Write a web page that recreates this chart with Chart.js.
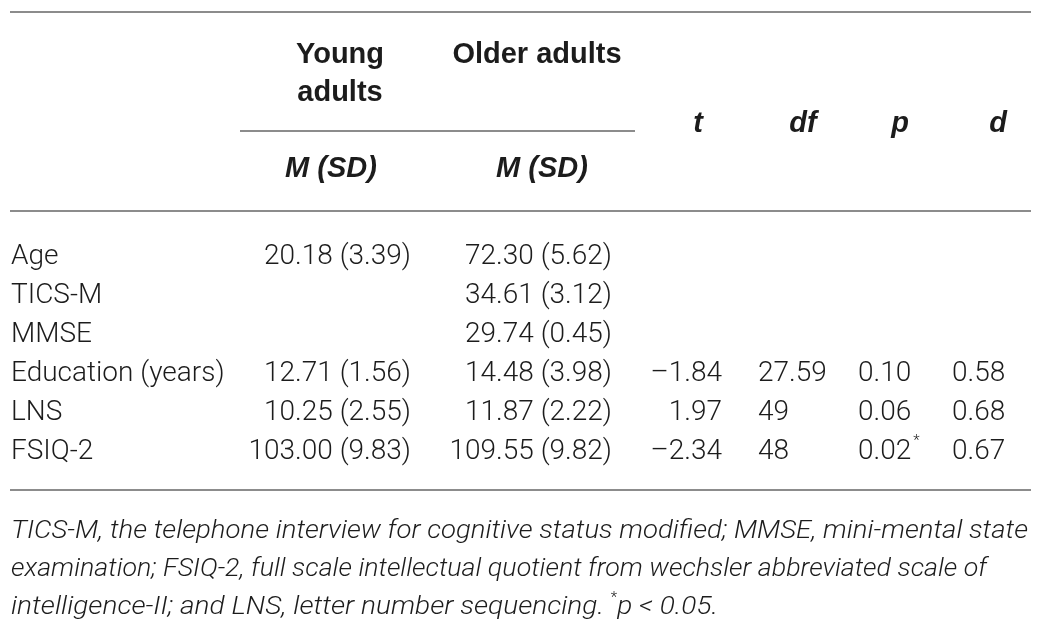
<!DOCTYPE html>
<html>
<head>
<meta charset="utf-8">
<script src="https://cdn.jsdelivr.net/npm/chart.js@4.4.1/dist/chart.umd.min.js"></script>
<style>
  html, body { margin: 0; padding: 0; background: #fff; }
  #wrap { width: 1043px; height: 621px; }
</style>
</head>
<body>
<div id="wrap"><canvas id="table" width="1043" height="621"></canvas></div>
<script>
// Table rows
const rowLabels = ["Age", "TICS-M", "MMSE", "Education (years)", "LNS", "FSIQ-2"];

// Young adults M (SD)
const youngMean = [20.18, null, null, 12.71, 10.25, 103.00];
const youngSD = [3.39, null, null, 1.56, 2.55, 9.83];

// Older adults M (SD)
const olderMean = [72.30, 34.61, 29.74, 14.48, 11.87, 109.55];
const olderSD = [5.62, 3.12, 0.45, 3.98, 2.22, 9.82];

// Test statistics
const tValues = [null, null, null, -1.84, 1.97, -2.34];
const dfValues = [null, null, null, 27.59, 49, 48];
const pValues = [null, null, null, 0.10, 0.06, 0.02];
const dValues = [null, null, null, 0.58, 0.68, 0.67];
const alphaLevel = 0.05;

const footnoteLines = [
  "TICS-M, the telephone interview for cognitive status modified; MMSE, mini-mental state",
  "examination; FSIQ-2, full scale intellectual quotient from wechsler abbreviated scale of",
  "intelligence-II; and LNS, letter number sequencing. "
];
const footnoteTail = "p < 0.05.";

// formatting helpers
const fmt = (v) => (v < 0 ? "\u2013" : "") + Math.abs(v).toFixed(2);
const fmtDf = (v) => (Number.isInteger(v) ? String(v) : v.toFixed(2));
const fmtMSD = (m, s) => (m == null ? null : m.toFixed(2) + " (" + s.toFixed(2) + ")");

// fonts / colours
const INK = "#1c1c1c";
const RULE = "#8c8c8c";
const BODY = "300 28px Roboto, 'Liberation Sans', sans-serif";
const HEAD = "bold 29px 'Liberation Sans', Arial, sans-serif";
const HEAD_IT = "italic bold 29px 'Liberation Sans', Arial, sans-serif";
const NOTE = "italic 300 26px Roboto, 'Liberation Sans', sans-serif";
const STAR = "300 14px Roboto, sans-serif";

// Column layout: anchor on x scale + text alignment
const columns = [
  { key: "label", anchor: 11, align: "left", texts: rowLabels },
  { key: "young", anchor: 411, align: "right", texts: youngMean.map((m, i) => fmtMSD(m, youngSD[i])) },
  { key: "older", anchor: 612, align: "right", texts: olderMean.map((m, i) => fmtMSD(m, olderSD[i])) },
  { key: "t", anchor: 722, align: "right", texts: tValues.map((v) => (v == null ? null : fmt(v))) },
  { key: "df", anchor: 758, align: "left", texts: dfValues.map((v) => (v == null ? null : fmtDf(v))) },
  { key: "p", anchor: 858, align: "left", texts: pValues.map((v) => (v == null ? null : fmt(v))),
    star: pValues.map((v) => v != null && v < alphaLevel) },
  { key: "d", anchor: 952, align: "left", texts: dValues.map((v) => (v == null ? null : fmt(v))) },
];

const datasets = columns.map((col) => ({
  label: col.key,
  align: col.align,
  pointRadius: 0,
  data: rowLabels
    .map((row, i) => ({ x: col.anchor, y: row, text: col.texts[i], star: col.star ? col.star[i] : false }))
    .filter((p) => p.text != null),
}));

//Draws the table texts and rules
const tablePlugin = {
  id: "tableText",
  afterDatasetsDraw(chart) {
    const ctx = chart.ctx;
    const x = chart.scales.x;
    ctx.save();

    // rules
    ctx.strokeStyle = RULE;
    ctx.lineWidth = 2;
    const rule = (x0, x1, y) => {
      ctx.beginPath();
      ctx.moveTo(x.getPixelForValue(x0), y);
      ctx.lineTo(x.getPixelForValue(x1), y);
      ctx.stroke();
    };
    rule(10, 1031, 12);
    rule(240, 635, 131);
    rule(10, 1031, 211);
    rule(10, 1031, 490);

    // header
    ctx.fillStyle = INK;
    ctx.textBaseline = "alphabetic";
    ctx.textAlign = "center";
    ctx.font = HEAD;
    ctx.fillText("Young", x.getPixelForValue(340), 63);
    ctx.fillText("adults", x.getPixelForValue(340), 101);
    ctx.fillText("Older adults", x.getPixelForValue(537), 63);
    ctx.font = HEAD_IT;
    ctx.fillText("M (SD)", x.getPixelForValue(331), 177);
    ctx.fillText("M (SD)", x.getPixelForValue(542), 177);
    [["t", 698], ["df", 803], ["p", 900], ["d", 998]].forEach(([s, cx]) => {
      ctx.fillText(s, x.getPixelForValue(cx), 132);
    });

    // body cells
    chart.data.datasets.forEach((ds, i) => {
      const meta = chart.getDatasetMeta(i);
      meta.data.forEach((pt, j) => {
        const cell = ds.data[j];
        ctx.font = BODY;
        ctx.textAlign = ds.align;
        ctx.fillText(cell.text, pt.x, pt.y + 10);
        if (cell.star) {
          const w = ctx.measureText(cell.text).width;
          ctx.font = "300 15px Roboto, sans-serif";
          ctx.textAlign = "left";
          ctx.fillText("*", pt.x + w + 2, pt.y - 4);
        }
      });
    });

    // footnote: each line squeezed/stretched to the width it takes in the table
    ctx.textAlign = "left";
    const noteY = [538, 576, 614];
    const noteRight = [1028, 987, 718];
    const widthOf = (txt, font) => { ctx.font = font; return ctx.measureText(txt).width; };
    footnoteLines.forEach((line, i) => {
      const parts = [[line, NOTE, 0]];
      if (i === 2) parts.push(["*", STAR, -12], [footnoteTail, NOTE, 0]);
      const natural = parts.reduce((s, [t, f]) => s + widthOf(t, f), 0);
      const k = (noteRight[i] - 11) / natural;
      ctx.save();
      ctx.translate(11, noteY[i]);
      ctx.scale(k, 1);
      let cx = 0;
      parts.forEach(([t, f, dy]) => {
        ctx.font = f;
        ctx.fillText(t, cx, dy);
        cx += ctx.measureText(t).width;
      });
      ctx.restore();
    });

    ctx.restore();
  },
};

new Chart(document.getElementById("table").getContext("2d"), {
  type: "scatter",
  data: { datasets },
  options: {
    responsive: false,
    animation: false,
    events: [],
    layout: { padding: { top: 234, bottom: 153, left: 0, right: 0 } },
    scales: {
      x: { type: "linear", min: 0, max: 1043, display: false },
      y: { type: "category", labels: rowLabels, offset: true, display: false },
    },
    plugins: {
      legend: { display: false },
      tooltip: { enabled: false },
    },
  },
  plugins: [tablePlugin],
});
</script>
</body>
</html>
